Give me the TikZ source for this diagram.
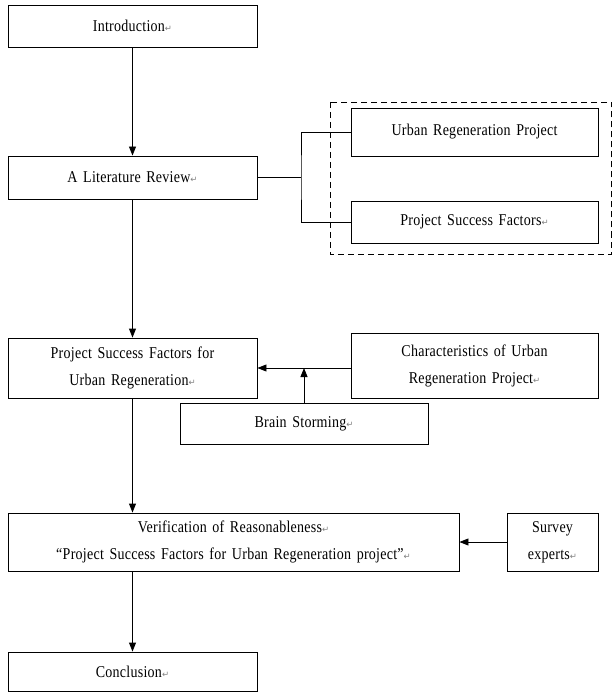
\documentclass[tikz,border=0pt]{standalone}
\usepackage{fontspec}
\setmainfont{Liberation Serif}[WordSpace=1.5, FakeStretch=0.85, LetterSpace=1.5]
\newfontfamily\symfont{DejaVu Sans}
\usetikzlibrary{arrows.meta}
\newcommand{\parmk}{{\symfont\fontsize{8.5}{8.5}\selectfont\color{gray}↵}}
\tikzset{
  box/.style={draw=black, line width=0.9pt, rectangle, align=center, inner sep=0pt,
    font=\fontsize{16.5}{27}\selectfont},
  arr/.style={line width=0.9pt, -{Triangle[length=9pt,width=7pt]}},
  ln/.style={line width=0.9pt}
}
\begin{document}
\begin{tikzpicture}[x=1pt,y=-1pt]
\useasboundingbox (0,0) rectangle (613,692);
\node[box, minimum width=249pt, minimum height=42pt] (intro) at (132.5,26) {Introduction\parmk};
\node[box, minimum width=249pt, minimum height=43pt] (lit) at (132.5,177.5) {A Literature Review\parmk};
\node[box, minimum width=247pt, minimum height=48pt] (urp) at (474.5,132) {Urban Regeneration Project};
\node[box, minimum width=247pt, minimum height=42pt] (psf) at (474.5,222) {Project Success Factors\parmk};
\draw[ln, dashed, dash pattern=on 6pt off 4pt] (330,102) rectangle (611.5,254);
\node[box, minimum width=249pt, minimum height=60pt] (psfur) at (132.5,368) {Project Success Factors for\\Urban Regeneration\parmk};
\node[box, minimum width=247pt, minimum height=65pt] (char) at (474.5,365.5) {Characteristics of Urban\\Regeneration Project\parmk};
\node[box, minimum width=248pt, minimum height=41pt] (brain) at (304,423.5) {Brain Storming\parmk};
\node[box, minimum width=451pt, minimum height=58pt] (verif) at (233.5,542) {Verification of Reasonableness\parmk\\“Project Success Factors for Urban Regeneration project”\parmk};
\node[box, minimum width=91pt, minimum height=58pt] (survey) at (552.5,542) {Survey\\experts\parmk};
\node[box, minimum width=249pt, minimum height=39pt] (concl) at (132.5,671.5) {Conclusion\parmk};
\coordinate (j) at (301,177.5);
\draw[arr] (intro) -- (lit);
\draw[ln] (lit.east) -- (j);
\draw[ln] (urp.west) -| (j) |- (psf.west);
\draw[arr] (lit) -- (psfur);
\draw[arr] (char.west |- psfur.east) -- (psfur.east);
\draw[arr] (brain.north) -- (brain.north |- psfur.east);
\draw[arr] (psfur) -- (verif.north -| psfur.south);
\draw[arr] (survey) -- (verif);
\draw[arr] (verif.south -| concl.north) -- (concl);
\end{tikzpicture}
\end{document}
